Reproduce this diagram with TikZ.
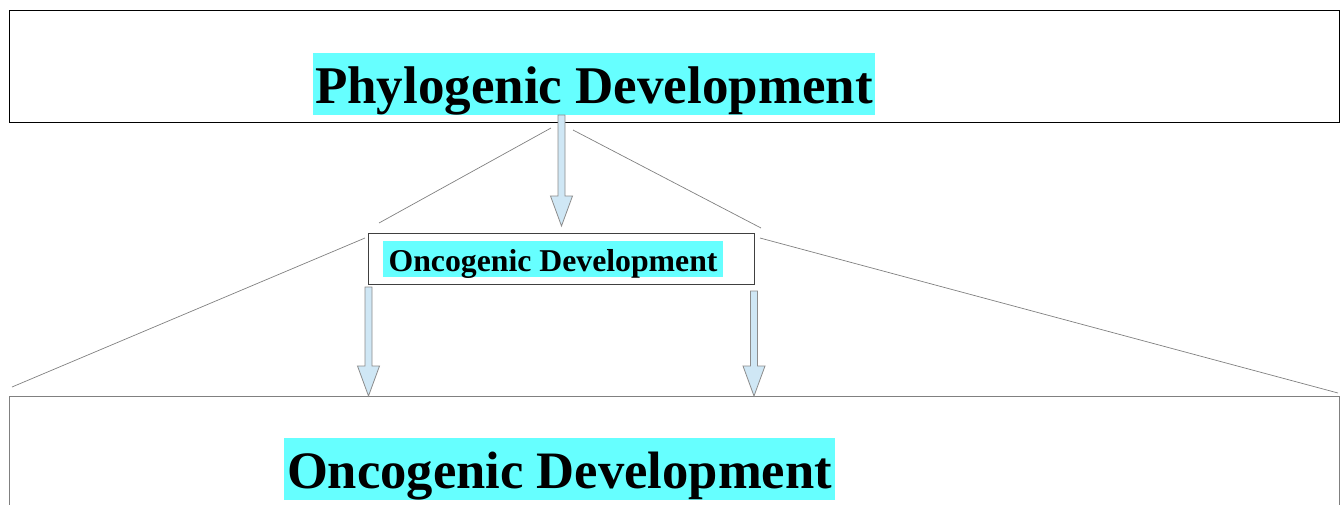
\documentclass[tikz,border=0pt]{standalone}
\usepackage{fontspec}
\setmainfont{Liberation Serif}
\usetikzlibrary{calc}
\usetikzlibrary{positioning}

\definecolor{hlcyan}{HTML}{66FFFF}
\definecolor{arrowblue}{HTML}{CFE7F5}

% block arrow from tail #1 straight down to tip #2
\newcommand{\blockarrow}[2]{%
  \draw[black!45, fill=arrowblue, line width=0.8pt, line join=miter]
    ($#1+(-3.5,0)$) -- ($#2+(-3.5,-30)$) -- ($#2+(-11,-30)$) -- #2
    -- ($#2+(11,-30)$) -- ($#2+(3.5,-30)$) -- ($#1+(3.5,0)$) -- cycle;}

\begin{document}
\begin{tikzpicture}[x=1pt,y=-1pt]
		\tikzstyle{every node}=[inner sep=0pt, outer sep=0pt];
		\tikzstyle{frame}=[draw, line width=0.8pt];
		\tikzstyle{hilite}=[fill=hlcyan, inner xsep=2pt, font=\bfseries];
		\tikzstyle{zoomline}=[black!50, line width=0.7pt];
		\useasboundingbox (0,0) rectangle (1340,504);
		% boxes
		\node[frame, draw=black, minimum width=1330, minimum height=112, anchor=north west] (phylobox) at (9,10) {};
		\node[frame, draw=black!75, minimum width=386, minimum height=51, anchor=north west] (oncobox) at (368,233) {};
		\node[frame, draw=black!50, minimum width=1330, minimum height=150, anchor=north west] (ontobox) at (9,396) {};
		% titles
		\node[hilite, text height=50pt, text depth=12pt, anchor=base west, font=\bfseries\fontsize{53}{60}\selectfont] (phylo) at (313,103) {Phylogenic Development};
		\node[hilite, text height=30pt, text depth=6pt, minimum width=340, anchor=base, font=\bfseries\fontsize{31.75}{36}\selectfont] (onco) at (553,271) {Oncogenic Development};
		\node[hilite, inner xsep=3pt, text height=50pt, text depth=12pt, anchor=base west, font=\bfseries\fontsize{52.6}{60}\selectfont] (onto) at (284,488) {Oncogenic Development};
		% ends of the lines
		\coordinate (pl) at (551,128);
		\coordinate (pr) at (573,130);
		\coordinate (ml) at (379,223);
		\coordinate (mr) at (761,228);
		\coordinate (ol) at (365,238);
		\coordinate (or) at (760,238);
		\coordinate (bl) at (12,387);
		\coordinate (br) at (1338,393);
		\draw[zoomline] (pl) -- (ml)
		(pr) -- (mr)
		(ol) -- (bl)
		(or) -- (br);
		% arrows
		\coordinate (a1) at (561.5,115);
		\coordinate (a2) at (561.5,226);
		\coordinate (b1) at (368.5,287);
		\coordinate (b2) at (368.5,396);
		\coordinate (c1) at (754,291);
		\coordinate (c2) at (754,396);
		\blockarrow{(a1)}{(a2)}
		\blockarrow{(b1)}{(b2)}
		\blockarrow{(c1)}{(c2)}
\end{tikzpicture}
\end{document}
